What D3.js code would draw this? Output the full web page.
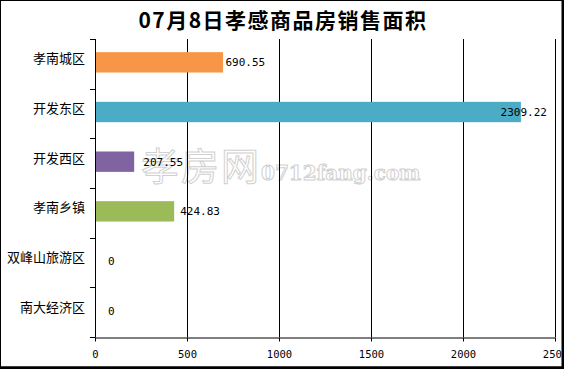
<!DOCTYPE html>
<meta charset="utf-8">
<script src="https://d3js.org/d3.v7.min.js"></script>
<style>
  body { margin: 0; background: #fff; }
</style>
<div id="chart"></div>
<script>
var categories = ["孝南城区", "开发东区", "开发西区", "孝南乡镇", "双峰山旅游区", "南大经济区"];
var values = [690.55, 2309.22, 207.55, 424.83, 0, 0];
var colors = ["#F79646", "#4BACC6", "#8064A2", "#9BBB59", "#C0504D", "#4F81BD"];
var xTicks = [0, 500, 1000, 1500, 2000, 2500];
var title = "07月8日孝感商品房销售面积";

var W = 564, H = 369;
var margin = {top: 39, right: 8, bottom: 32, left: 95};
var width = 555 - margin.left,
    height = 337 - margin.top;

var svg = d3.select("#chart").append("svg")
  .attr("width", W)
  .attr("height", H);

// title
svg.append("text")
  .attr("x", 283)
  .attr("y", 28)
  .attr("text-anchor", "middle")
  .style("font-family", "'Noto Sans CJK SC', sans-serif")
  .style("font-weight", "bold")
  .style("font-size", "21px")
  .style("letter-spacing", "1.5px")
  .text(title);

// watermark (behind everything)
var wm = svg.append("text")
  .attr("x", 141)
  .attr("y", 180)
  .style("fill", "#fff")
  .style("stroke", "#d0d0d0")
  .style("stroke-width", 1);
wm.append("tspan")
  .style("font-family", "'Noto Sans CJK SC', sans-serif")
  .style("font-size", "38px")
  .style("letter-spacing", "2px")
  .text("孝房网");
wm.append("tspan")
  .style("font-family", "'DejaVu Serif', serif")
  .style("font-weight", "bold")
  .style("font-size", "20px")
  .text("0712fang.com");

var g = svg.append("g")
  .attr("transform", "translate(" + margin.left + "," + margin.top + ")");

var x = d3.scaleLinear().domain([0, 2500]).range([0, width]);
var y = d3.scaleBand().domain(categories).range([0, height]);
// value labels sit on a slightly compressed scale in the original
var xl = d3.scaleLinear().domain([0, 2500]).range([13, 13 + 0.17 * 2500]);

// gridlines
g.append("g")
  .selectAll("line")
  .data(xTicks)
  .enter().append("line")
  .attr("x1", function(d) { return Math.round(x(d)) + 0.5; })
  .attr("x2", function(d) { return Math.round(x(d)) + 0.5; })
  .attr("y1", 0)
  .attr("y2", height)
  .attr("stroke", "#000")
  .attr("stroke-width", 1);

// bars
g.append("g")
  .selectAll("rect")
  .data(values)
  .enter().append("rect")
  .attr("x", x(0) + 1)
  .attr("y", function(d, i) { return y(categories[i]) + y.bandwidth() * 0.265; })
  .attr("width", function(d) { return x(d); })
  .attr("height", y.bandwidth() * 0.41)
  .attr("fill", function(d, i) { return colors[i]; });

// value labels
g.append("g")
  .selectAll("text")
  .data(values)
  .enter().append("text")
  .attr("x", function(d) { return xl(d); })
  .attr("y", function(d, i) { return y(categories[i]) + y.bandwidth() * 0.47; })
  .attr("dy", "0.35em")
  .style("font-family", "'DejaVu Sans Mono', monospace")
  .style("font-size", "11px")
  .text(function(d) { return d === 0 ? "0" : d3.format(".2f")(d); });

// y axis
var yAxis = g.append("g")
  .call(d3.axisLeft(y).tickSize(0).tickPadding(10).tickFormat(function(d) { return d; }));
yAxis.select(".domain").remove();
yAxis.selectAll("text")
  .attr("dy", "-0.05em")
  .style("font-family", "'Noto Sans CJK SC', sans-serif")
  .style("font-size", "13px")
  .attr("fill", "#000");
// category boundary ticks
var yb = [0].concat(categories.map(function(c) { return y(c) + y.bandwidth(); }));
g.append("g").selectAll("line")
  .data(yb)
  .enter().append("line")
  .attr("x1", -5).attr("x2", 0.5)
  .attr("y1", function(d) { return Math.round(d) + 0.5; })
  .attr("y2", function(d) { return Math.round(d) + 0.5; })
  .attr("stroke", "#000");
g.append("line")
  .attr("x1", 0.5).attr("x2", 0.5)
  .attr("y1", 0).attr("y2", height)
  .attr("stroke", "#000");

// x axis
var xAxis = g.append("g")
  .attr("transform", "translate(0," + (height + 0.5) + ")")
  .call(d3.axisBottom(x).tickValues(xTicks).tickFormat(d3.format("d"))
    .tickSize(4).tickPadding(9).tickSizeOuter(0));
xAxis.select(".domain").attr("stroke", "#000");
xAxis.selectAll("text")
  .style("font-family", "'DejaVu Sans Mono', monospace")
  .style("font-size", "10.5px")
  .attr("fill", "#000");

// outer frame
svg.append("rect")
  .attr("x", 0.5).attr("y", 0.5)
  .attr("width", W - 2.5).attr("height", H - 2.5)
  .attr("fill", "none")
  .attr("stroke", "#000");
svg.append("rect").attr("x", W - 2).attr("y", 0).attr("width", 2).attr("height", H).attr("fill", "#000");
svg.append("rect").attr("x", 0).attr("y", H - 2.5).attr("width", W).attr("height", 2.5).attr("fill", "#000");
</script>
